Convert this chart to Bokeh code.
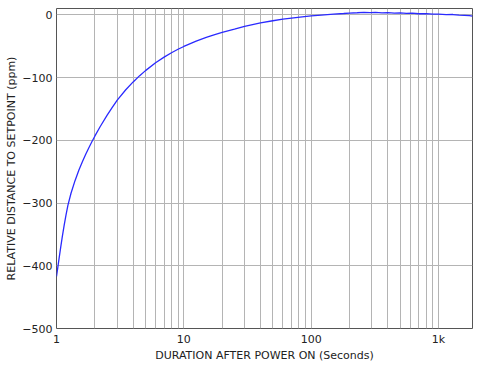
from bokeh.plotting import figure
from bokeh.models import FixedTicker
from bokeh.embed import file_html
from bokeh.resources import INLINE

# ---- data ----
x_seconds = [1.0, 1.024, 1.05, 1.08, 1.11, 1.15, 1.19, 1.23, 1.3, 1.4, 1.5, 1.6, 1.7, 1.8,
             1.9, 2.0, 2.2, 2.5, 2.75, 3.0, 3.5, 4.0, 4.5, 5.0, 6.0, 7.0, 8.0, 9.0, 10.0,
             12.5, 15.0, 17.5, 20.0, 25.0, 30.0, 40.0, 50.0, 60.0, 70.0, 85.0, 100.0,
             120.0, 150.0, 180.0, 200.0, 230.0, 260.0, 290.0, 320.0, 360.0, 400.0, 450.0,
             500.0, 560.0, 620.0, 700.0, 800.0, 900.0, 1000.0, 1150.0, 1300.0, 1450.0,
             1600.0, 1750.0, 1850.0]
y_ppm = [-417, -402.5, -387, -370, -354, -335, -318, -303.5, -284.5, -264, -247.5, -234, -222, -211.5,
         -202, -193.5, -178.5, -160, -147.3, -136, -119.5, -107, -97, -89, -76.5, -67.5, -60.5, -55, -50.5,
         -42, -36, -31.5, -28, -23, -18.5, -13, -9.5, -7, -5.2, -3.2, -1.8,
         -0.4, 1.0, 2.0, 2.6, 3.2, 3.8, 3.3, 3.9, 3.1, 3.4, 2.6,
         3.0, 2.2, 2.6, 1.6, 1.9, 0.9, 1.1, 0.3, 0.4, -0.6,
         -1.0, -1.4, -2.0]

x_ticks = [1, 10, 100, 1000]
x_minor_ticks = [2, 3, 4, 5, 6, 7, 8, 9, 20, 30, 40, 50, 60, 70, 80, 90,
                 200, 300, 400, 500, 600, 700, 800, 900]
x_tick_labels = ["1", "10", "100", "1k"]
y_ticks = [-500, -400, -300, -200, -100, 0]
y_tick_labels = ["\u2212500", "\u2212400", "\u2212300", "\u2212200", "\u2212100", "0"]

x_label = "DURATION AFTER POWER ON (Seconds)"
y_label = "RELATIVE DISTANCE TO SETPOINT (ppm)"

FONT = "DejaVu Sans"

p = figure(width=478, height=365, x_axis_type="log",
           x_range=(1, 1850), y_range=(-500, 10),
           output_backend="svg", toolbar_location=None,
           min_border_left=56, min_border_right=6,
           min_border_top=8, min_border_bottom=37)

p.line(x_seconds, y_ppm, line_color="#2a2aff", line_width=1.3)

# axes
p.xaxis.ticker = FixedTicker(ticks=x_ticks, minor_ticks=x_minor_ticks)
p.xaxis.major_label_overrides = {t: l for t, l in zip(x_ticks, x_tick_labels)}
p.yaxis.ticker = FixedTicker(ticks=y_ticks)
p.yaxis.major_label_overrides = {t: l for t, l in zip(y_ticks, y_tick_labels)}

for ax in (p.xaxis, p.yaxis):
    ax.axis_line_color = None
    ax.major_tick_out = 0
    ax.major_tick_in = 0
    ax.minor_tick_out = 0
    ax.minor_tick_in = 0
    ax.major_label_text_font = FONT
    ax.major_label_text_font_size = "11px"
    ax.major_label_text_color = "#222222"
    ax.major_label_standoff = 4
    ax.axis_label_text_font = FONT
    ax.axis_label_text_font_style = "normal"
    ax.axis_label_text_color = "#222222"
    ax.axis_label_text_font_size = "11px"

p.xaxis.axis_label = x_label
p.xaxis.axis_label_standoff = 0
p.yaxis.axis_label = y_label
p.yaxis.axis_label_standoff = 1

# grids
p.xgrid.grid_line_color = "#b4b4b4"
p.xgrid.grid_line_width = 1
p.xgrid.minor_grid_line_color = "#b4b4b4"
p.xgrid.minor_grid_line_width = 1
p.ygrid.grid_line_color = "#b4b4b4"
p.ygrid.grid_line_width = 1

p.outline_line_color = "#555555"
p.outline_line_width = 1
p.background_fill_color = "white"
p.border_fill_color = "white"

open("out.html", "w").write(file_html(p, INLINE))
